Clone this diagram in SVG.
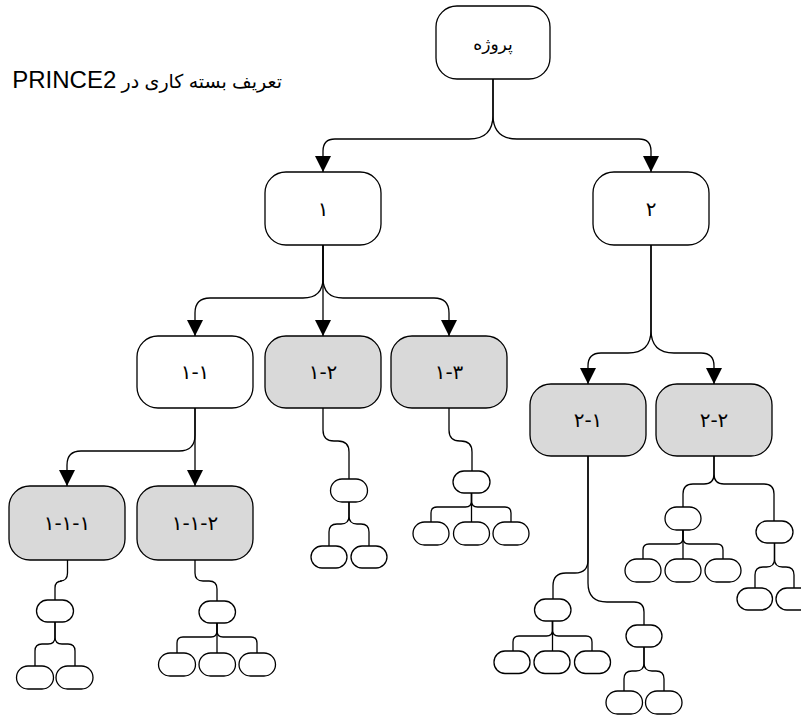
<svg xmlns="http://www.w3.org/2000/svg" width="801" height="716" viewBox="0 0 801 716">
<style>
.box{fill:#fff;stroke:#000;stroke-width:1.3}
.gray{fill:#d9d9d9}
.pill{fill:#fff;stroke:#000;stroke-width:1.3}
.c{fill:none;stroke:#000;stroke-width:1.3}
.lbl{font-family:"DejaVu Sans","Noto Sans",sans-serif;font-size:20px;text-anchor:middle;dominant-baseline:central;fill:#000}
.rl{font-size:17px}
.title{font-family:"Liberation Sans","DejaVu Sans",sans-serif;font-size:19px;fill:#000}
.lat{font-size:24px}
</style>
<defs>
<marker id="arr" markerUnits="userSpaceOnUse" viewBox="0 0 16 16" markerWidth="16" markerHeight="16" refX="16" refY="8" orient="auto">
<path d="M0,0 L16,8 L0,16 z" fill="#000"/>
</marker>
</defs>
<rect width="801" height="716" fill="#fff"/>
<text class="title" x="282" y="88" direction="rtl" style="direction:rtl;unicode-bidi:embed" text-anchor="start">تعریف بسته کاری در <tspan class="lat">PRINCE2</tspan></text>

<g id="connectors">
<path class="c" marker-end="url(#arr)" d="M493,79 V115 Q493,139 469,139 H335 Q323,139 323,151 V172"/>
<path class="c" marker-end="url(#arr)" d="M493,79 V115 Q493,139 517,139 H639 Q651,139 651,151 V172"/>
<path class="c" marker-end="url(#arr)" d="M323,245 V278 Q323,298 303,298 H210 Q195,298 195,313 V336"/>
<path class="c" marker-end="url(#arr)" d="M323,245 V336"/>
<path class="c" marker-end="url(#arr)" d="M323,245 V278 Q323,298 343,298 H434 Q449,298 449,313 V336"/>
<path class="c" marker-end="url(#arr)" d="M651,245 V330 Q651,353 628,353 H601 Q588,353 588,366 V384"/>
<path class="c" marker-end="url(#arr)" d="M651,245 V330 Q651,353 674,353 H701 Q714,353 714,366 V384"/>
<path class="c" marker-end="url(#arr)" d="M195,408 V435 Q195,451 179,451 H81 Q67,451 67,465 V486"/>
<path class="c" marker-end="url(#arr)" d="M195,408 V486"/>
<path class="c" d="M67.5,560 V573 Q67.5,581 60,581 H62 Q55,581 55,588 V600"/>
<path class="c" d="M55,622 V637 Q55,644 48,644 H42 Q35,644 35,651 V666"/>
<path class="c" d="M55,622 V637 Q55,644 62,644 H68 Q75,644 75,651 V666"/>
<path class="c" d="M195,560 V573 Q195,581 203,581 H209 Q217,581 217,589 V601"/>
<path class="c" d="M217,623 V631 Q217,637 211,637 H183 Q177,637 177,643 V653"/>
<path class="c" d="M217,623 V653"/>
<path class="c" d="M217,623 V631 Q217,637 223,637 H251 Q257,637 257,643 V653"/>
<path class="c" d="M323,408 V430 Q323,441 334,441 H338 Q349,441 349,452 V479"/>
<path class="c" d="M349,502 V516 Q349,524 341,524 H337 Q329,524 329,532 V546"/>
<path class="c" d="M349,502 V516 Q349,524 357,524 H361 Q369,524 369,532 V546"/>
<path class="c" d="M449,408 V430 Q449,441 460,441 H461 Q472,441 472,452 V471"/>
<path class="c" d="M471.5,493 V501 Q471.5,507 465.5,507 H437 Q431,507 431,513 V522"/>
<path class="c" d="M471.5,493 V522"/>
<path class="c" d="M471.5,493 V501 Q471.5,507 477.5,507 H505 Q511,507 511,513 V522"/>
<path class="c" d="M588,456 V560 Q588,573 575,573 H566 Q553,573 553,586 V599"/>
<path class="c" d="M588,456 V583 Q588,602 607,602 H634 Q644,602 644,612 V625"/>
<path class="c" d="M552.5,621 V630 Q552.5,636 546.5,636 H519 Q513,636 513,642 V651"/>
<path class="c" d="M552.5,621 V651"/>
<path class="c" d="M552.5,621 V630 Q552.5,636 558.5,636 H586 Q592,636 592,642 V651"/>
<path class="c" d="M644,647 V663 Q644,671 636,671 H632 Q624,671 624,679 V691"/>
<path class="c" d="M644,647 V663 Q644,671 652,671 H656 Q664,671 664,679 V691"/>
<path class="c" d="M714,456 V474 Q714,484 704,484 H693 Q683,484 683,494 V507"/>
<path class="c" d="M714,456 V474 Q714,484 724,484 H764 Q774,484 774,494 V521"/>
<path class="c" d="M683,530 V538 Q683,544 677,544 H649 Q643,544 643,550 V559"/>
<path class="c" d="M683,530 V559"/>
<path class="c" d="M683,530 V538 Q683,544 689,544 H717 Q723,544 723,550 V559"/>
<path class="c" d="M774.5,543 V559 Q774.5,567 766.5,567 H763 Q755,567 755,575 V588"/>
<path class="c" d="M774.5,543 V559 Q774.5,567 782.5,567 H786 Q794,567 794,575 V588"/>
</g>

<g id="root"><rect class="box" x="436" y="6" width="114" height="73" rx="21"/><text class="lbl rl" x="493" y="44">پروژه</text></g>
<g id="n1"><rect class="box" x="265" y="172" width="116" height="73" rx="21"/><text class="lbl" x="323" y="209">۱</text></g>
<g id="n2"><rect class="box" x="593" y="172" width="116" height="73" rx="21"/><text class="lbl" x="651" y="209">۲</text></g>
<g id="n1-1"><rect class="box" x="137" y="336" width="116" height="72" rx="21"/><text class="lbl" x="195" y="372">۱-۱</text></g>
<g id="n1-2"><rect class="box gray" x="265" y="336" width="116" height="72" rx="21"/><text class="lbl" x="323" y="372">۱-۲</text></g>
<g id="n1-3"><rect class="box gray" x="391" y="336" width="116" height="72" rx="21"/><text class="lbl" x="449" y="372">۱-۳</text></g>
<g id="n2-1"><rect class="box gray" x="530" y="384" width="116" height="72" rx="21"/><text class="lbl" x="588" y="420">۲-۱</text></g>
<g id="n2-2"><rect class="box gray" x="656" y="384" width="116" height="72" rx="21"/><text class="lbl" x="714" y="420">۲-۲</text></g>
<g id="n1-1-1"><rect class="box gray" x="9" y="486" width="116" height="74" rx="21"/><text class="lbl" x="67" y="523">۱-۱-۱</text></g>
<g id="n1-1-2"><rect class="box gray" x="137" y="486" width="116" height="74" rx="21"/><text class="lbl" x="195" y="523">۱-۱-۲</text></g>

<g id="s111"><rect class="pill" x="36.5" y="600" width="37" height="22" rx="11"/></g>
<g id="s111a"><rect class="pill" x="16.5" y="666" width="37" height="23" rx="11.5"/></g>
<g id="s111b"><rect class="pill" x="56" y="666" width="37" height="23" rx="11.5"/></g>
<g id="s112"><rect class="pill" x="199" y="601" width="36.5" height="22" rx="11"/></g>
<g id="s112a"><rect class="pill" x="158.5" y="653" width="37" height="23" rx="11.5"/></g>
<g id="s112b"><rect class="pill" x="199" y="653" width="36.5" height="23" rx="11.5"/></g>
<g id="s112c"><rect class="pill" x="239" y="653" width="36.5" height="23" rx="11.5"/></g>
<g id="s12"><rect class="pill" x="330.5" y="479" width="37" height="23" rx="11.5"/></g>
<g id="s12a"><rect class="pill" x="311" y="546" width="36" height="22" rx="11"/></g>
<g id="s12b"><rect class="pill" x="351" y="546" width="36" height="22" rx="11"/></g>
<g id="s13"><rect class="pill" x="453" y="471" width="37" height="22" rx="11"/></g>
<g id="s13a"><rect class="pill" x="413" y="522" width="36" height="23" rx="11.5"/></g>
<g id="s13b"><rect class="pill" x="453.5" y="522" width="36" height="23" rx="11.5"/></g>
<g id="s13c"><rect class="pill" x="493" y="522" width="36" height="23" rx="11.5"/></g>
<g id="s21"><rect class="pill" x="534.5" y="599" width="36.5" height="22" rx="11"/></g>
<g id="s21a"><rect class="pill" x="494" y="651" width="36" height="22.5" rx="11"/></g>
<g id="s21b"><rect class="pill" x="534" y="651" width="36" height="22.5" rx="11"/></g>
<g id="s21c"><rect class="pill" x="574.5" y="651" width="36" height="22.5" rx="11"/></g>
<g id="s21d"><rect class="pill" x="626" y="625" width="36" height="22" rx="11"/></g>
<g id="s21e"><rect class="pill" x="606" y="691" width="36.5" height="23" rx="11.5"/></g>
<g id="s21f"><rect class="pill" x="645.5" y="691" width="36.5" height="23" rx="11.5"/></g>
<g id="s22"><rect class="pill" x="665" y="507" width="36" height="23" rx="11.5"/></g>
<g id="s22a"><rect class="pill" x="625" y="559" width="36" height="23" rx="11.5"/></g>
<g id="s22b"><rect class="pill" x="665" y="559" width="36" height="23" rx="11.5"/></g>
<g id="s22c"><rect class="pill" x="705" y="559" width="36" height="23" rx="11.5"/></g>
<g id="s22d"><rect class="pill" x="756" y="521" width="37" height="22" rx="11"/></g>
<g id="s22e"><rect class="pill" x="737" y="588" width="35.5" height="22" rx="11"/></g>
<g id="s22f"><rect class="pill" x="776" y="588" width="36" height="22" rx="11"/></g>
</svg>
